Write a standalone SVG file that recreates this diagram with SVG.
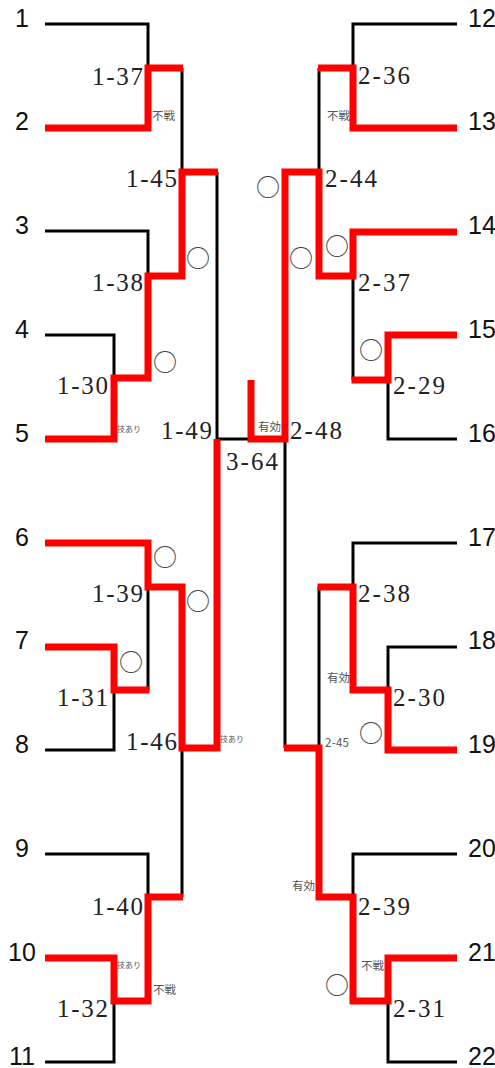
<svg xmlns="http://www.w3.org/2000/svg" width="495" height="1068" viewBox="0 0 495 1068">
<style>
.k{stroke:#000;stroke-width:3;fill:none;stroke-linejoin:miter}
.r{stroke:#f00;stroke-width:7;fill:none;stroke-linejoin:miter}
.pn{font-family:"Liberation Sans",Arial,sans-serif;font-size:25px;fill:#111}
.pl{text-anchor:middle}
.lb{font-family:"Liberation Serif","Times New Roman",serif;font-size:25px;fill:#222}
.nt{font-family:"Noto Sans CJK JP","Noto Sans",sans-serif;font-size:11.5px;fill:#555}
.sm{font-family:"Noto Sans CJK JP","Noto Sans",sans-serif;font-size:8px;fill:#555}
.ci{font-family:"Noto Sans CJK JP",sans-serif;font-size:24px;fill:#444;text-anchor:middle}
</style>
<rect width="495" height="1068" fill="#fff"/>
<g id="connectors">
<path class="k" d="M45,24 H148 V68"/>
<path class="k" d="M182,68 V172"/>
<path class="k" d="M45,231 H148 V276"/>
<path class="k" d="M45,335 H114 V378"/>
<path class="k" d="M217,172 V439 H250"/>
<path class="k" d="M148,690 V587"/>
<path class="k" d="M45,750 H114 V690"/>
<path class="k" d="M45,854 H148 V897"/>
<path class="k" d="M182,897 V748"/>
<path class="k" d="M45,1062 H114 V1001"/>
<path class="k" d="M457,24 H353 V68"/>
<path class="k" d="M319,68 V172"/>
<path class="k" d="M353,380 V276"/>
<path class="k" d="M457,439 H388 V380"/>
<path class="k" d="M285,748 V439 H250"/>
<path class="k" d="M457,543 H353 V587"/>
<path class="k" d="M319,587 V748"/>
<path class="k" d="M457,647 H388 V690"/>
<path class="k" d="M457,854 H353 V897"/>
<path class="k" d="M457,1062 H388 V1001"/>
<path class="r" d="M45,128 H148 V68 H183"/>
<path class="r" d="M45,439 H114 V378 H148 V276 H182 V172 H218"/>
<path class="r" d="M45,543 H148 V587 H182 V748 H217 V439"/>
<path class="r" d="M45,647 H114 V690 H149.5"/>
<path class="r" d="M45,958 H114 V1001 H148 V897 H183"/>
<path class="r" d="M457,128 H353 V68 H318"/>
<path class="r" d="M457,232 H353 V276 H319 V172 H285 V439 H251 V380"/>
<path class="r" d="M457,335 H388 V380 H351.5"/>
<path class="r" d="M457,750 H388 V690 H353 V587 H317.5"/>
<path class="r" d="M457,958 H388 V1001 H353 V897 H319 V748 H284"/>
</g>
<g id="p1"><text class="pn pl" x="22" y="26.5">1</text></g>
<g id="p2"><text class="pn pl" x="22" y="130">2</text></g>
<g id="p3"><text class="pn pl" x="22" y="234">3</text></g>
<g id="p4"><text class="pn pl" x="22" y="338">4</text></g>
<g id="p5"><text class="pn pl" x="22" y="441.5">5</text></g>
<g id="p6"><text class="pn pl" x="22" y="545.5">6</text></g>
<g id="p7"><text class="pn pl" x="22" y="649">7</text></g>
<g id="p8"><text class="pn pl" x="22" y="753">8</text></g>
<g id="p9"><text class="pn pl" x="22" y="857">9</text></g>
<g id="p10"><text class="pn pl" x="22" y="960.5">10</text></g>
<g id="p11"><text class="pn pl" x="22" y="1064.5">11</text></g>
<g id="p12"><text class="pn" x="468" y="26.5">12</text></g>
<g id="p13"><text class="pn" x="468" y="130">13</text></g>
<g id="p14"><text class="pn" x="468" y="234">14</text></g>
<g id="p15"><text class="pn" x="468" y="338">15</text></g>
<g id="p16"><text class="pn" x="468" y="441.5">16</text></g>
<g id="p17"><text class="pn" x="468" y="545.5">17</text></g>
<g id="p18"><text class="pn" x="468" y="649">18</text></g>
<g id="p19"><text class="pn" x="468" y="753">19</text></g>
<g id="p20"><text class="pn" x="468" y="857">20</text></g>
<g id="p21"><text class="pn" x="468" y="960.5">21</text></g>
<g id="p22"><text class="pn" x="468" y="1064.5">22</text></g>
<g id="m1-37"><text class="lb" x="92" y="85" textLength="51">1-37</text><text class="nt" x="152" y="120">不戦</text></g>
<g id="m1-45"><text class="lb" x="126" y="187" textLength="51">1-45</text><text class="ci" x="198" y="267">○</text></g>
<g id="m1-38"><text class="lb" x="92" y="291" textLength="51">1-38</text><text class="ci" x="165" y="371">○</text></g>
<g id="m1-30"><text class="lb" x="57" y="394" textLength="51">1-30</text><text class="sm" x="117" y="432">技あり</text></g>
<g id="m1-49"><text class="lb" x="161" y="439" textLength="51">1-49</text></g>
<g id="m3-64"><text class="lb" x="226" y="470" textLength="52">3-64</text><text class="nt" x="258" y="431">有効</text></g>
<g id="m1-39"><text class="lb" x="92" y="602" textLength="51">1-39</text><text class="ci" x="165" y="566">○</text></g>
<g id="m1-46"><text class="lb" x="126" y="750" textLength="51">1-46</text><text class="ci" x="198" y="610">○</text><text class="sm" x="220" y="742">技あり</text></g>
<g id="m1-31"><text class="lb" x="57" y="706" textLength="51">1-31</text><text class="ci" x="131" y="671">○</text></g>
<g id="m1-40"><text class="lb" x="92" y="915" textLength="51">1-40</text><text class="nt" x="153" y="994">不戦</text></g>
<g id="m1-32"><text class="lb" x="57" y="1017" textLength="51">1-32</text><text class="sm" x="117" y="968">技あり</text></g>
<g id="m2-36"><text class="lb" x="358" y="84" textLength="52">2-36</text><text class="nt" x="327" y="120">不戦</text></g>
<g id="m2-44"><text class="lb" x="325" y="187" textLength="52">2-44</text><text class="ci" x="268" y="196">○</text></g>
<g id="m2-37"><text class="lb" x="358" y="291" textLength="52">2-37</text><text class="ci" x="301" y="267">○</text><text class="ci" x="337" y="255">○</text></g>
<g id="m2-29"><text class="lb" x="393" y="394" textLength="52">2-29</text><text class="ci" x="371" y="359">○</text></g>
<g id="m2-48"><text class="lb" x="290" y="439" textLength="52">2-48</text></g>
<g id="m2-38"><text class="lb" x="358" y="602" textLength="52">2-38</text><text class="nt" x="327" y="682">有効</text></g>
<g id="m2-30"><text class="lb" x="393" y="706" textLength="52">2-30</text><text class="ci" x="371" y="742">○</text></g>
<g id="m2-45"><text class="nt" x="325" y="747" textLength="24">2-45</text></g>
<g id="m2-39"><text class="lb" x="358" y="915" textLength="52">2-39</text><text class="nt" x="292" y="890">有効</text></g>
<g id="m2-31"><text class="lb" x="393" y="1017" textLength="52">2-31</text><text class="nt" x="361" y="970">不戦</text><text class="ci" x="337" y="994">○</text></g>
</svg>
